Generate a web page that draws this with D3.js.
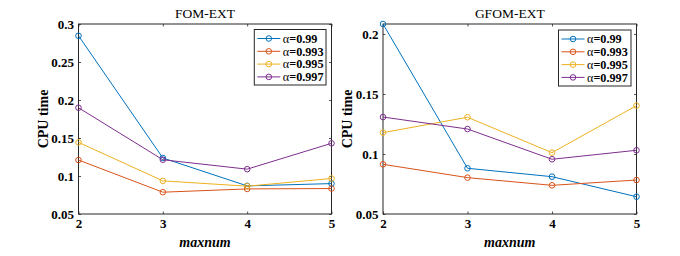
<!DOCTYPE html>
<html><head><meta charset="utf-8">
<script src="https://cdn.jsdelivr.net/npm/d3@7"></script>
<style>body{margin:0;background:#fff}svg{display:block}</style>
</head><body>
<svg id="c" width="680" height="256"></svg>
<script>
const xValues = [2, 3, 4, 5];
const seriesNames = ["0.99", "0.993", "0.995", "0.997"];
const seriesColors = ["#0072BD", "#D95319", "#EDB120", "#7E2F8E"];
const fomTitle = "FOM-EXT";
const fomA099 = [0.2845, 0.1237, 0.087, 0.090];
const fomA0993 = [0.121, 0.0787, 0.083, 0.0835];
const fomA0995 = [0.1443, 0.0936, 0.0866, 0.0967];
const fomA0997 = [0.1898, 0.1214, 0.109, 0.143];
const fomYTicks = [0.05, 0.1, 0.15, 0.2, 0.25, 0.3];
const fomYDomain = [0.05, 0.3];
const gfomTitle = "GFOM-EXT";
const gfomA099 = [0.2083, 0.0881, 0.0811, 0.0644];
const gfomA0993 = [0.0914, 0.0803, 0.0739, 0.0783];
const gfomA0995 = [0.1178, 0.1306, 0.1011, 0.1403];
const gfomA0997 = [0.1308, 0.1208, 0.0956, 0.1031];
const gfomYTicks = [0.05, 0.1, 0.15, 0.2];
const gfomYDomain = [0.05, 0.2083];
const xLabel = "maxnum";
const yLabel = "CPU time";

const svg = d3.select("#c");
const serif = "'Liberation Serif','Times New Roman',serif";

function panel(left, right, top, bottom, title, series, yDomain, yTicks, legendBox) {
  const x = d3.scaleLinear().domain([2, 5]).range([left, right]);
  const y = d3.scaleLinear().domain(yDomain).range([bottom, top]);
  const g = svg.append("g");
  const axisColor = "#262626";
  const tl = 2.5;
  const xa = g.append("g").attr("transform", `translate(0,${bottom})`)
    .call(d3.axisBottom(x).tickValues(xValues).tickSize(-tl).tickPadding(4.5).tickFormat(d3.format("d")));
  const xt = g.append("g").attr("transform", `translate(0,${top})`)
    .call(d3.axisTop(x).tickValues(xValues).tickSize(-tl).tickFormat(""));
  const ya = g.append("g").attr("transform", `translate(${left},0)`)
    .call(d3.axisLeft(y).tickValues(yTicks).tickSize(-tl).tickPadding(4.5).tickFormat(d => d3.format("")(+d.toFixed(2))));
  const yr = g.append("g").attr("transform", `translate(${right},0)`)
    .call(d3.axisRight(y).tickValues(yTicks).tickSize(-tl).tickFormat(""));
  [xa, xt, ya, yr].forEach(a => {
    a.selectAll("path.domain").remove();
    a.selectAll("line").attr("stroke", axisColor).attr("stroke-width", 0.8);
    a.selectAll("text").attr("fill", "#000").style("font-family", serif)
      .style("font-weight", "bold").style("font-size", "13px");
  });
  g.append("rect").attr("x", left).attr("y", top).attr("width", right - left).attr("height", bottom - top)
    .attr("fill", "none").attr("stroke", axisColor).attr("stroke-width", 1);

  const line = d3.line().x((d, i) => x(xValues[i])).y(d => y(d));
  series.forEach((s, k) => {
    g.append("path").datum(s).attr("d", line).attr("fill", "none")
      .attr("stroke", seriesColors[k]).attr("stroke-width", 1);
    g.selectAll(null).data(s).enter().append("circle")
      .attr("cx", (d, i) => x(xValues[i])).attr("cy", d => y(d)).attr("r", 2.8)
      .attr("fill", "none").attr("stroke", seriesColors[k]).attr("stroke-width", 1);
  });

  g.append("text").attr("x", (left + right) / 2).attr("y", top - 6).attr("text-anchor", "middle")
    .style("font-family", serif).style("font-size", "13.5px").attr("fill", "#000").text(title);
  g.append("text").attr("x", (left + right) / 2).attr("y", 246.5).attr("text-anchor", "middle")
    .style("font-family", serif).style("font-size", "14px").style("font-weight", "bold")
    .style("font-style", "italic").attr("fill", "#000").text(xLabel);
  g.append("text").attr("transform", `translate(${left - 31},${(top + bottom) / 2}) rotate(-90)`)
    .attr("text-anchor", "middle").style("font-family", serif).style("font-size", "14px")
    .style("font-weight", "bold").attr("fill", "#000").text(yLabel);

  const lb = legendBox;
  g.append("rect").attr("x", lb.x).attr("y", lb.y).attr("width", lb.w).attr("height", lb.h)
    .attr("fill", "#fff").attr("stroke", axisColor).attr("stroke-width", 1);
  seriesNames.forEach((n, k) => {
    const ry = lb.y + 9 + k * 12.8;
    g.append("line").attr("x1", lb.x + 3).attr("x2", lb.x + 26).attr("y1", ry).attr("y2", ry)
      .attr("stroke", seriesColors[k]).attr("stroke-width", 1);
    g.append("circle").attr("cx", lb.x + 14.5).attr("cy", ry).attr("r", 2.8)
      .attr("fill", "none").attr("stroke", seriesColors[k]).attr("stroke-width", 1);
    const t = g.append("text").attr("x", lb.x + 28.5).attr("y", ry + 4.2)
      .style("font-family", serif).style("font-size", "12.2px").attr("fill", "#000");
    t.append("tspan").text("α");
    t.append("tspan").style("font-weight", "bold").text("=" + n);
  });
}

panel(78.5, 331.5, 24, 214, fomTitle, [fomA099, fomA0993, fomA0995, fomA0997], fomYDomain, fomYTicks,
  {x: 254.3, y: 29.5, w: 71.7, h: 55.5});
panel(383, 636.5, 24, 214, gfomTitle, [gfomA099, gfomA0993, gfomA0995, gfomA0997], gfomYDomain, gfomYTicks,
  {x: 558.5, y: 30, w: 72.5, h: 56});
</script>
</body></html>
